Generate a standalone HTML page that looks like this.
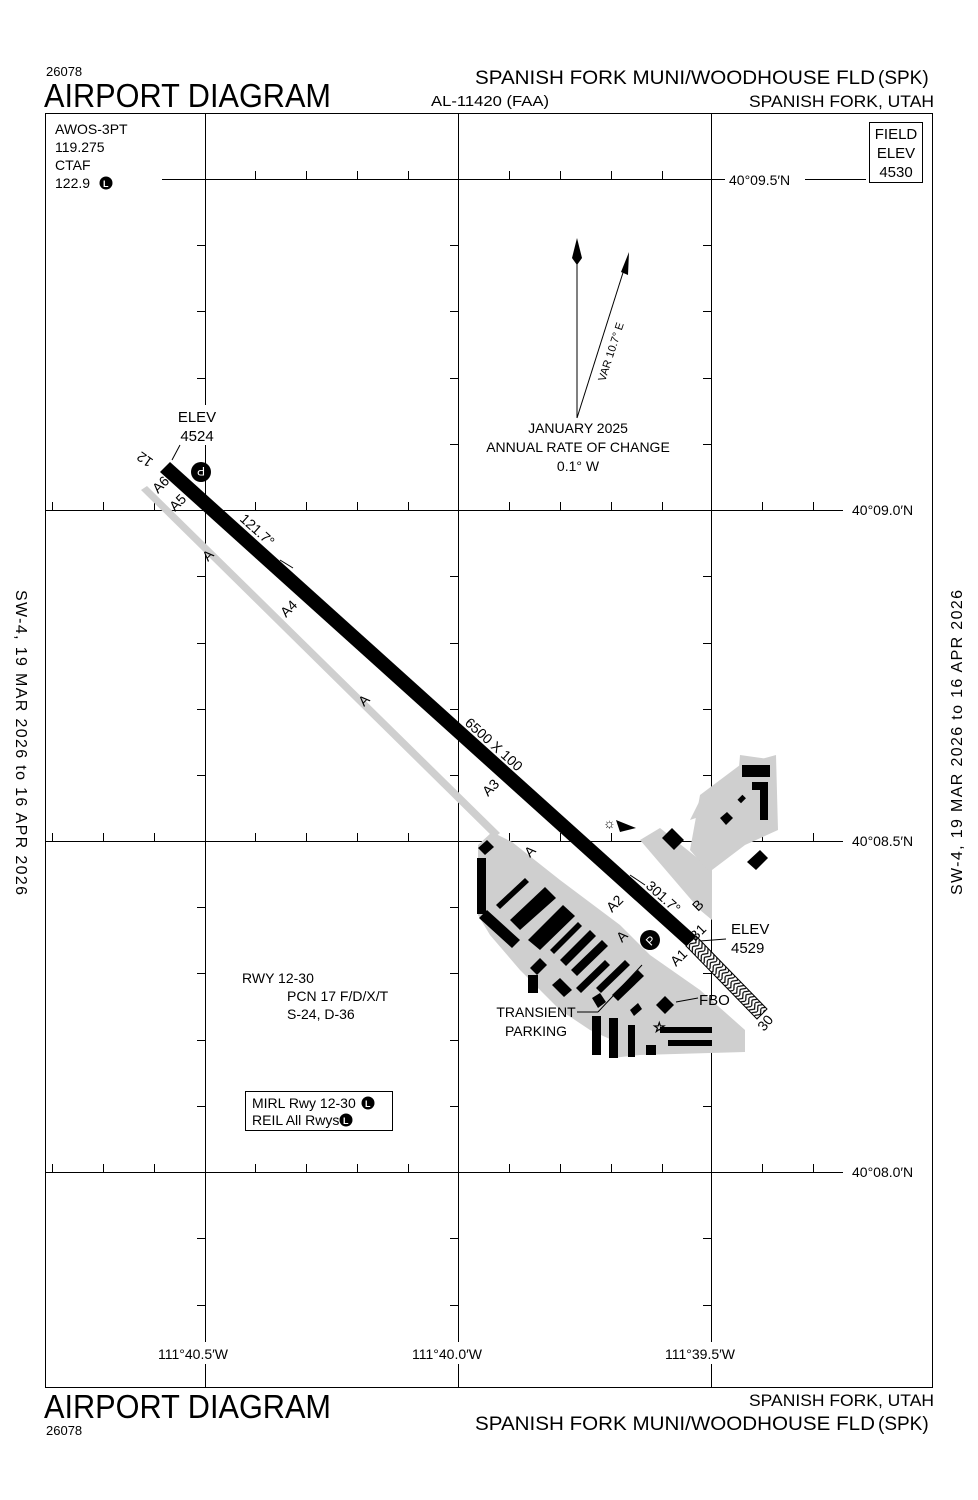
<!DOCTYPE html>
<html><head><meta charset="utf-8"><style>
body{margin:0;background:#fff}
svg{display:block}
text{font-family:"Liberation Sans",sans-serif;fill:#000}
</style></head><body>
<svg width="978" height="1500" viewBox="0 0 978 1500" xmlns="http://www.w3.org/2000/svg">
<defs>
<pattern id="chev" width="8" height="10" patternUnits="userSpaceOnUse" patternTransform="rotate(42)">
<rect width="8" height="10" fill="#fff"/><path d="M0,0 L4,5 L0,10 M4,0 L8,5 L4,10" stroke="#000" stroke-width="1.2" fill="none"/>
</pattern>
</defs>
<!-- header -->
<text x="46" y="76" font-size="13">26078</text>
<text x="44" y="107" font-size="33" textLength="287" lengthAdjust="spacingAndGlyphs">AIRPORT DIAGRAM</text>
<text x="475" y="84" font-size="19" textLength="400" lengthAdjust="spacingAndGlyphs">SPANISH FORK MUNI/WOODHOUSE FLD</text>
<text x="878" y="84" font-size="19" font-family="Liberation Serif">(SPK)</text>
<text x="431" y="106" font-size="15" textLength="118" lengthAdjust="spacingAndGlyphs">AL-11420 (FAA)</text>
<text x="749" y="107" font-size="17" textLength="185" lengthAdjust="spacingAndGlyphs">SPANISH FORK, UTAH</text>
<!-- frame -->
<rect x="45.5" y="113.5" width="887" height="1274" fill="none" stroke="#000" stroke-width="1"/>
<!-- grid -->
<g stroke="#000" stroke-width="1">
<line x1="205.5" y1="114" x2="205.5" y2="1387"/>
<line x1="458.5" y1="114" x2="458.5" y2="1387"/>
<line x1="711.5" y1="114" x2="711.5" y2="1387"/>
<line x1="162" y1="179.5" x2="725" y2="179.5"/>
<line x1="805" y1="179.5" x2="866" y2="179.5"/>
<line x1="46" y1="510.5" x2="843" y2="510.5"/>
<line x1="46" y1="841.5" x2="843" y2="841.5"/>
<line x1="46" y1="1172.5" x2="843" y2="1172.5"/>
</g>
<g stroke="#000" stroke-width="1">
<path d="M255.5,171V179 M306.5,171V179 M357.5,171V179 M408.5,171V179 M509.5,171V179 M560.5,171V179 M611.5,171V179 M662.5,171V179"/>
<path d="M52.5,502V510 M103.5,502V510 M154.5,502V510 M255.5,502V510 M306.5,502V510 M357.5,502V510 M408.5,502V510 M509.5,502V510 M560.5,502V510 M611.5,502V510 M662.5,502V510 M762.5,502V510 M813.5,502V510"/>
<path d="M52.5,833V841 M103.5,833V841 M154.5,833V841 M255.5,833V841 M306.5,833V841 M357.5,833V841 M408.5,833V841 M509.5,833V841 M560.5,833V841 M611.5,833V841 M662.5,833V841 M762.5,833V841 M813.5,833V841"/>
<path d="M52.5,1164V1172 M103.5,1164V1172 M154.5,1164V1172 M255.5,1164V1172 M306.5,1164V1172 M357.5,1164V1172 M408.5,1164V1172 M509.5,1164V1172 M560.5,1164V1172 M611.5,1164V1172 M662.5,1164V1172 M762.5,1164V1172 M813.5,1164V1172"/>
<path d="M197,245.5H205 M197,311.5H205 M197,378.5H205 M197,444.5H205 M197,576.5H205 M197,643.5H205 M197,709.5H205 M197,775.5H205 M197,907.5H205 M197,973.5H205 M197,1040.5H205 M197,1106.5H205 M197,1238.5H205 M197,1305.5H205"/>
<path d="M450,245.5H458 M450,311.5H458 M450,378.5H458 M450,444.5H458 M450,576.5H458 M450,643.5H458 M450,709.5H458 M450,775.5H458 M450,907.5H458 M450,973.5H458 M450,1040.5H458 M450,1106.5H458 M450,1238.5H458 M450,1305.5H458"/>
<path d="M703,245.5H711 M703,311.5H711 M703,378.5H711 M703,444.5H711 M703,576.5H711 M703,643.5H711 M703,709.5H711 M703,775.5H711 M703,907.5H711 M703,973.5H711 M703,1040.5H711 M703,1106.5H711 M703,1238.5H711 M703,1305.5H711"/>
</g>
<!-- white masks behind labels -->
<g fill="#fff">
<rect x="155" y="1342" width="90" height="22"/>
<rect x="408" y="1342" width="92" height="22"/>
<rect x="662" y="1342" width="92" height="22"/>
<rect x="172" y="405" width="50" height="40"/>
<rect x="726" y="168" width="78" height="22"/>
</g>
<text x="729" y="185" font-size="14">40°09.5′N</text>
<text x="852" y="515" font-size="14">40°09.0′N</text>
<text x="852" y="846" font-size="14">40°08.5′N</text>
<text x="852" y="1177" font-size="14">40°08.0′N</text>
<text x="158" y="1359" font-size="14">111°40.5′W</text>
<text x="412" y="1359" font-size="14">111°40.0′W</text>
<text x="665" y="1359" font-size="14">111°39.5′W</text>
<!-- comm box -->
<text x="55" y="134" font-size="14">AWOS-3PT</text>
<text x="55" y="152" font-size="14">119.275</text>
<text x="55" y="170" font-size="14">CTAF</text>
<text x="55" y="188" font-size="14">122.9</text>
<circle cx="106" cy="183" r="6.5" fill="#000"/><text x="103" y="187" font-size="9" style="fill:#fff" font-weight="bold">L</text>
<rect x="869.5" y="122.5" width="53" height="60" fill="#fff" stroke="#000"/>
<text x="896" y="139" font-size="15" text-anchor="middle">FIELD</text>
<text x="896" y="158" font-size="15" text-anchor="middle">ELEV</text>
<text x="896" y="177" font-size="15" text-anchor="middle">4530</text>
<!-- magnetic north -->
<line x1="577" y1="250" x2="577" y2="418" stroke="#000"/>
<path d="M577,238 L582,258 L577,265 L572,258Z" fill="#000"/>
<line x1="577" y1="418" x2="627" y2="260" stroke="#000"/>
<path d="M629,252 L628,275 L621,272Z" fill="#000"/>
<text transform="translate(605,382) rotate(-72)" font-size="11">VAR 10.7° E</text>
<text x="578" y="433" font-size="14" text-anchor="middle">JANUARY 2025</text>
<text x="578" y="452" font-size="14" text-anchor="middle">ANNUAL RATE OF CHANGE</text>
<text x="578" y="471" font-size="14" text-anchor="middle">0.1° W</text>
<!-- taxiway / aprons -->
<g fill="#cfcfcf">
<path d="M141,490 L147,486 L500,833 L494,838Z"/>
<path d="M478,845 L492,832 L512,842 L560,880 L620,925 L650,955 L700,990 L745,1030 L745,1052 L640,1055 L612,1058 L612,1040 L590,1030 L560,1010 L520,970 L490,935 L478,915Z"/>
<path d="M640,840 L660,828 L700,860 L712,870 L712,920 L700,910Z"/>
<path d="M690,820 L725,808 L750,825 L760,800 L775,795 L775,760 L740,755 L738,780 L718,800 L700,800Z"/>
<path d="M700,795 L740,765 L776,755 L778,830 L745,845 L712,870 L712,875 L690,850Z"/>
</g>
<!-- runway -->
<path d="M160,472 L170,462 L696,936 L686,946Z" fill="#000"/>
<path d="M686,946 L696,936 L767,1009 L757,1019Z" fill="url(#chev)" stroke="#000" stroke-width="1"/>
<!-- buildings -->
<g fill="#000">
<path d="M478,848 L487,840 L494,847 L485,855Z"/>
<rect x="477" y="858" width="9" height="56"/>
<path d="M479,918 L487,910 L520,940 L512,948Z"/>
<path d="M496,905 L525,878 L529,882 L500,909Z"/>
<path d="M510,920 L545,887 L556,898 L520,930Z"/>
<path d="M528,940 L563,905 L575,916 L540,950Z"/>
<path d="M550,950 L578,922 L582,926 L554,954Z"/>
<path d="M560,960 L590,930 L596,936 L566,966Z"/>
<path d="M571,970 L602,940 L608,946 L577,976Z"/>
<path d="M530,968 L540,958 L547,965 L537,975Z"/>
<rect x="528" y="975" width="10" height="18"/>
<path d="M552,985 L560,978 L572,990 L564,997Z"/>
<path d="M576,988 L605,960 L610,965 L581,993Z"/>
<path d="M596,988 L625,960 L630,965 L601,993Z"/>
<path d="M612,995 L638,970 L644,976 L618,1001Z"/>
<path d="M592,998 L600,993 L606,1002 L598,1008Z"/>
<path d="M630,1010 L638,1003 L642,1009 L634,1016Z"/>
<rect x="592" y="1016" width="9" height="39"/>
<rect x="609" y="1018" width="9" height="40"/>
<rect x="628" y="1025" width="7" height="32"/>
<rect x="660" y="1027" width="52" height="6"/>
<rect x="668" y="1040" width="44" height="6"/>
<rect x="646" y="1045" width="10" height="10"/>
<path d="M656,1005 L665,996 L674,1005 L665,1014Z"/>
<path d="M662,838 L672,828 L684,840 L674,850Z"/>
<rect x="742" y="765" width="28" height="12"/>
<rect x="738" y="797" width="7" height="5" transform="rotate(-45 741 799)"/>
<path d="M752,782 L768,782 L768,820 L760,820 L760,790 L752,790Z"/>
<path d="M720,818 L727,812 L733,818 L726,825Z"/>
<path d="M747,862 L760,850 L768,858 L756,870Z"/>
</g>
<path d="M616,820 L636,828 L620,832Z" fill="#000"/>
<text x="603" y="828" font-size="14">☼</text>
<circle cx="201" cy="472" r="10" fill="#000"/><text x="201" y="477" font-size="12" style="fill:#fff" text-anchor="middle" transform="rotate(180 201 472)">P</text>
<circle cx="650" cy="940" r="10" fill="#000"/><text x="650" y="945" font-size="12" style="fill:#fff" text-anchor="middle" transform="rotate(-45 650 940)">P</text>
<!-- runway labels -->
<text x="197" y="422" font-size="15" text-anchor="middle">ELEV</text>
<text x="197" y="441" font-size="15" text-anchor="middle">4524</text>
<line x1="180" y1="445" x2="172" y2="460" stroke="#000"/>
<text transform="translate(154,460) rotate(-145)" font-size="14">12</text>
<text transform="translate(158,494) rotate(-45)" font-size="14">A6</text>
<text transform="translate(175,512) rotate(-45)" font-size="14">A5</text>
<text transform="translate(239,520) rotate(42)" font-size="14">121.7°</text>
<path d="M280,560 L293,568" stroke="#000"/>
<text transform="translate(208,562) rotate(-45)" font-size="14">A</text>
<text transform="translate(286,618) rotate(-45)" font-size="14">A4</text>
<text transform="translate(364,707) rotate(-45)" font-size="14">A</text>
<text transform="translate(464,724) rotate(42)" font-size="14">6500 X 100</text>
<text transform="translate(488,797) rotate(-45)" font-size="14">A3</text>
<text transform="translate(530,858) rotate(-45)" font-size="14">A</text>
<text transform="translate(612,913) rotate(-45)" font-size="14">A2</text>
<text transform="translate(622,943) rotate(-45)" font-size="14">A</text>
<text transform="translate(645,887) rotate(42)" font-size="14">301.7°</text>
<path d="M630,875 L645,885" stroke="#000"/>
<text transform="translate(698,912) rotate(-45)" font-size="14">B</text>
<text transform="translate(695,942) rotate(-45)" font-size="14">B1</text>
<text transform="translate(676,967) rotate(-45)" font-size="14">A1</text>
<text transform="translate(764,1032) rotate(-50)" font-size="14">30</text>
<text x="731" y="934" font-size="15">ELEV</text>
<text x="731" y="953" font-size="15">4529</text>
<line x1="700" y1="941" x2="726" y2="939" stroke="#000"/>
<text x="699" y="1005" font-size="15">FBO</text>
<line x1="676" y1="1002" x2="698" y2="998" stroke="#000"/>
<text x="536" y="1017" font-size="14" text-anchor="middle">TRANSIENT</text>
<text x="536" y="1036" font-size="14" text-anchor="middle">PARKING</text>
<line x1="577" y1="1012" x2="598" y2="1012" stroke="#000"/>
<line x1="598" y1="1012" x2="642" y2="965" stroke="#000"/>
<text x="653" y="1032" font-size="14" style="fill:#fff;stroke:#000;stroke-width:0.8">☆</text>
<!-- runway info -->
<text x="242" y="983" font-size="14">RWY 12-30</text>
<text x="287" y="1001" font-size="14">PCN 17 F/D/X/T</text>
<text x="287" y="1019" font-size="14">S-24, D-36</text>
<rect x="245.5" y="1091.5" width="147" height="39" fill="#fff" stroke="#000"/>
<text x="252" y="1108" font-size="14">MIRL Rwy 12-30</text>
<circle cx="368" cy="1103" r="6.5" fill="#000"/><text x="365" y="1107" font-size="9" style="fill:#fff" font-weight="bold">L</text>
<text x="252" y="1125" font-size="14">REIL All Rwys</text>
<circle cx="346" cy="1120" r="6.5" fill="#000"/><text x="343" y="1124" font-size="9" style="fill:#fff" font-weight="bold">L</text>
<!-- side text -->
<text transform="translate(16,590) rotate(90)" font-size="16" textLength="305" lengthAdjust="spacing">SW-4,  19 MAR 2026  to  16 APR 2026</text>
<text transform="translate(962,895) rotate(-90)" font-size="16" textLength="305" lengthAdjust="spacing">SW-4,  19 MAR 2026  to  16 APR 2026</text>
<!-- footer -->
<text x="44" y="1418" font-size="33" textLength="287" lengthAdjust="spacingAndGlyphs">AIRPORT DIAGRAM</text>
<text x="46" y="1435" font-size="13">26078</text>
<text x="749" y="1406" font-size="17" textLength="185" lengthAdjust="spacingAndGlyphs">SPANISH FORK, UTAH</text>
<text x="475" y="1430" font-size="19" textLength="400" lengthAdjust="spacingAndGlyphs">SPANISH FORK MUNI/WOODHOUSE FLD</text>
<text x="878" y="1430" font-size="19" font-family="Liberation Serif">(SPK)</text>
</svg>
</body></html>
